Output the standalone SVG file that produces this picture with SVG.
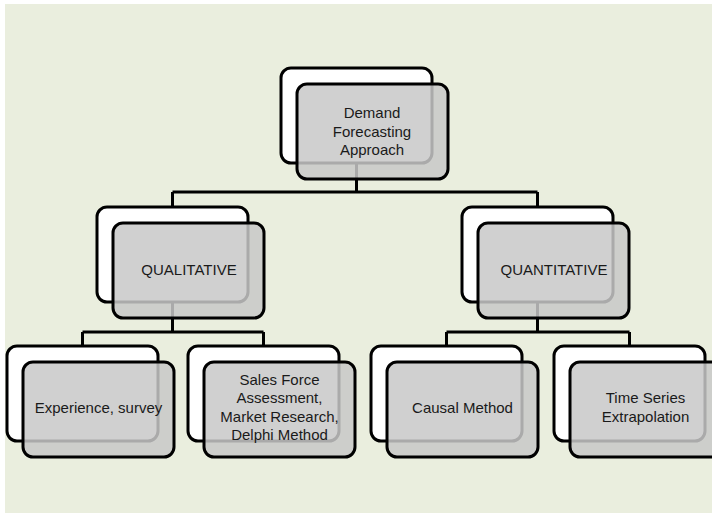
<svg xmlns="http://www.w3.org/2000/svg" width="712" height="517" viewBox="0 0 712 517">
  <style>
    .bg { fill: #eaeede; }
    .back { fill: #ffffff; stroke: #000000; stroke-width: 3; }
    .front { fill: #c8c8c8; fill-opacity: 0.85; stroke: #000000; stroke-width: 3; }
    .link { fill: none; stroke: #000000; stroke-width: 3; }
    text { font-family: "Liberation Sans", Arial, sans-serif; font-size: 15px; fill: #1a1a1a; text-anchor: middle; }
  </style>
  <defs>
    <rect id="card" width="151" height="95" rx="10" ry="10"/>
  </defs>

  <rect x="0" y="0" width="712" height="517" fill="#ffffff"/>
  <rect class="bg" x="5" y="4" width="707" height="509"/>

  <!-- tree connectors, drawn beneath the cards -->
  <g id="connectors" class="link">
    <path d="M356.5,163 V192 M172.5,192 H537.5 M172.5,192 V207 M537.5,192 V207"/>
    <path d="M172.5,302 V332 M82.5,332 H263.5 M82.5,332 V346 M263.5,332 V346"/>
    <path d="M537.5,302 V332 M446.5,332 H629.5 M446.5,332 V346 M629.5,332 V346"/>
  </g>

  <g id="node-root">
    <use href="#card" class="back" x="281" y="68"/>
    <use href="#card" class="front" x="297" y="84"/>
    <text x="372" y="118">Demand</text>
    <text x="372" y="137">Forecasting</text>
    <text x="372" y="155">Approach</text>
  </g>

  <g id="node-qualitative">
    <use href="#card" class="back" x="97" y="207"/>
    <use href="#card" class="front" x="113" y="223"/>
    <text x="189" y="275">QUALITATIVE</text>
  </g>

  <g id="node-quantitative">
    <use href="#card" class="back" x="462" y="207"/>
    <use href="#card" class="front" x="478" y="223"/>
    <text x="554" y="275">QUANTITATIVE</text>
  </g>

  <g id="node-experience">
    <use href="#card" class="back" x="7" y="346"/>
    <use href="#card" class="front" x="23" y="362"/>
    <text x="98.5" y="413">Experience, survey</text>
  </g>

  <g id="node-sales-force">
    <use href="#card" class="back" x="188" y="346"/>
    <use href="#card" class="front" x="204" y="362"/>
    <text x="279.5" y="385">Sales Force</text>
    <text x="279.5" y="403">Assessment,</text>
    <text x="279.5" y="422">Market Research,</text>
    <text x="279.5" y="440">Delphi Method</text>
  </g>

  <g id="node-causal">
    <use href="#card" class="back" x="371" y="346"/>
    <use href="#card" class="front" x="387" y="362"/>
    <text x="462.5" y="413">Causal Method</text>
  </g>

  <g id="node-time-series">
    <use href="#card" class="back" x="554" y="346"/>
    <use href="#card" class="front" x="570" y="362"/>
    <text x="645.5" y="403">Time Series</text>
    <text x="645.5" y="422">Extrapolation</text>
  </g>
</svg>
